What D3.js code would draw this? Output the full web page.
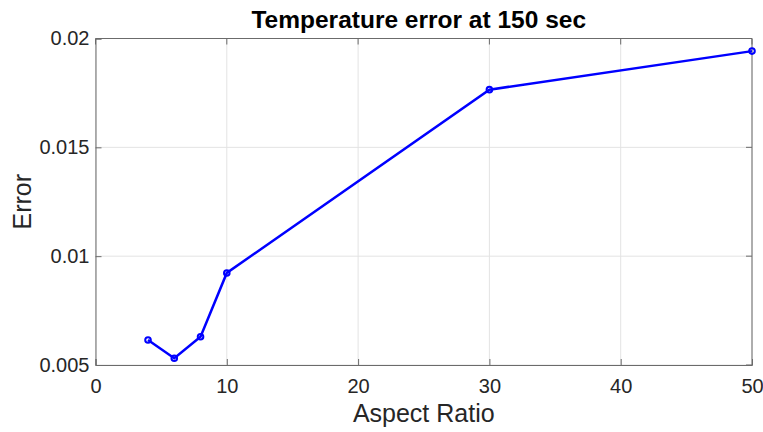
<!DOCTYPE html>
<html><head><meta charset="utf-8">
<script src="https://cdn.jsdelivr.net/npm/d3@7"></script>
<style>body{margin:0;background:#fff}</style>
</head><body>
<svg id="c" width="763" height="432"></svg>
<script>
const aspectRatio = [4, 6, 8, 10, 30, 50];
const errorValues = [0.00615, 0.00531, 0.0063, 0.00923, 0.01765, 0.01942];
const xTicks = [0, 10, 20, 30, 40, 50];
const yTicks = [0.005, 0.01, 0.015, 0.02];
const yTickLabels = ["0.005", "0.01", "0.015", "0.02"];

const svg = d3.select("#c");
const L = 95.5, R = 752, T = 38.5, B = 365;
const x = d3.scaleLinear().domain([0, 50]).range([L, R]);
const y = d3.scaleLinear().domain([0.005, 0.02]).range([B, T]);
const font = "Liberation Sans, Arial, Helvetica, sans-serif";

// grid
svg.append("g").selectAll("line").data(xTicks).join("line")
  .attr("x1", d => x(d)).attr("x2", d => x(d)).attr("y1", T).attr("y2", B)
  .attr("stroke", "#e3e3e3").attr("stroke-width", 1);
svg.append("g").selectAll("line").data(yTicks).join("line")
  .attr("x1", L).attr("x2", R).attr("y1", d => y(d)).attr("y2", d => y(d))
  .attr("stroke", "#e3e3e3").attr("stroke-width", 1);

// axes
const xAxis = d3.axisBottom(x).tickValues(xTicks).tickSize(-6).tickPadding(14).tickFormat(d3.format("d"));
const yAxis = d3.axisLeft(y).tickValues(yTicks).tickSize(-6).tickPadding(6).tickFormat((d, i) => yTickLabels[i]);
const gx = svg.append("g").attr("transform", `translate(0,${B})`).call(xAxis);
const gy = svg.append("g").attr("transform", `translate(${L},0)`).call(yAxis);
[gx, gy].forEach(g => {
  g.select(".domain").attr("stroke", "#6b6b6b");
  g.selectAll(".tick line").attr("stroke", "#6b6b6b");
  g.selectAll("text").attr("fill", "#262626").style("font-family", font).style("font-size", "20px");
});
gx.selectAll("text").attr("dy", "0.71em");
// top and right box
svg.append("line").attr("x1", L).attr("x2", R).attr("y1", T).attr("y2", T).attr("stroke", "#6b6b6b");
svg.append("line").attr("x1", R).attr("x2", R).attr("y1", T).attr("y2", B).attr("stroke", "#6b6b6b");
// top/right ticks
svg.append("g").selectAll("line").data(xTicks).join("line")
  .attr("x1", d => x(d)).attr("x2", d => x(d)).attr("y1", T).attr("y2", T + 6).attr("stroke", "#6b6b6b");
svg.append("g").selectAll("line").data(yTicks).join("line")
  .attr("x1", R - 6).attr("x2", R).attr("y1", d => y(d)).attr("y2", d => y(d)).attr("stroke", "#6b6b6b");

// line
const data = aspectRatio.map((a, i) => [a, errorValues[i]]);
svg.append("path").datum(data)
  .attr("d", d3.line().x(d => x(d[0])).y(d => y(d[1])))
  .attr("fill", "none").attr("stroke", "#0000ff").attr("stroke-width", 2.5);
svg.append("g").selectAll("circle").data(data).join("circle")
  .attr("cx", d => x(d[0])).attr("cy", d => y(d[1])).attr("r", 2.8)
  .attr("fill", "none").attr("stroke", "#0000ff").attr("stroke-width", 2);

// labels
svg.append("text").attr("x", (L + R) / 2 - 5).attr("y", 28).attr("text-anchor", "middle")
  .style("font-family", font).style("font-size", "24.5px").style("font-weight", "bold")
  .attr("fill", "#000").text("Temperature error at 150 sec");
svg.append("text").attr("x", (L + R) / 2).attr("y", 422).attr("text-anchor", "middle")
  .style("font-family", font).style("font-size", "25px").attr("fill", "#262626").text("Aspect Ratio");
svg.append("text").attr("transform", `translate(31,${(T + B) / 2}) rotate(-90)`).attr("text-anchor", "middle")
  .style("font-family", font).style("font-size", "25px").attr("fill", "#262626").text("Error");
</script>
</body></html>
